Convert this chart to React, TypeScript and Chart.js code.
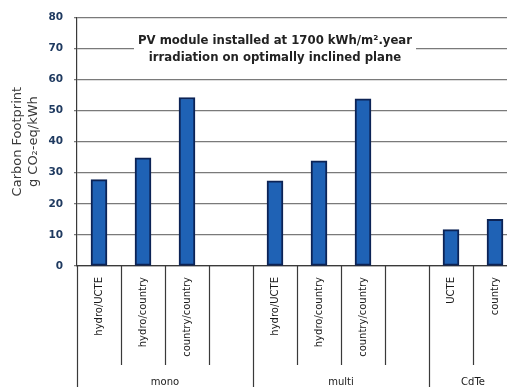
import React, { useEffect, useRef } from 'react';
import { Chart, registerables } from 'chart.js';

Chart.register(...registerables);

const categories = [
  'hydro/UCTE', 'hydro/country', 'country/country', '',
  'hydro/UCTE', 'hydro/country', 'country/country', '',
  'UCTE', 'country',
];
const footprint: (number | null)[] = [27.8, 34.8, 54.2, null, 27.4, 33.8, 53.8, null, 11.7, 15.0];
const groupNames = ['mono', 'multi', 'CdTe'];
const groupSizes = [4, 4, 2];
const yMin = 0;
const yMax = 80;
const yStep = 10;
const noteLines = ['PV module installed at 1700 kWh/m\u00B2.year', 'irradiation on optimally inclined plane'];
const yTitle = ['Carbon Footprint', 'g CO\u2082-eq/kWh'];

const overlayPlugin = {
  id: 'overlay',
  beforeDatasetsDraw(chart: any) {
    const { ctx, scales } = chart;
    const x = scales.x;
    const y = scales.y;
    const cx = x.getPixelForValue(4);
    const y70 = y.getPixelForValue(70);
    ctx.save();
    ctx.font = 'bold 11.7px "DejaVu Sans"';
    const w = Math.max(...noteLines.map((t) => ctx.measureText(t).width));
    ctx.fillStyle = '#ffffff';
    ctx.fillRect(cx - w / 2 - 4, y70 - 17, w + 8, 38);
    ctx.fillStyle = '#222222';
    ctx.textAlign = 'center';
    ctx.textBaseline = 'middle';
    ctx.fillText(noteLines[0], cx, y70 - 7);
    ctx.fillText(noteLines[1], cx, y70 + 10);
    ctx.restore();
  },
  afterDraw(chart: any) {
    const { ctx, scales, chartArea } = chart;
    const x = scales.x;
    const n = categories.length;
    const slot = x.getPixelForValue(1) - x.getPixelForValue(0);
    const bounds: number[] = [0];
    groupSizes.reduce((acc, s) => {
      bounds.push(acc + s);
      return acc + s;
    }, 0);
    ctx.save();
    ctx.strokeStyle = '#3a3a3a';
    ctx.lineWidth = 1.2;
    for (let i = 0; i <= n; i++) {
      const bx = Math.round(x.getPixelForValue(0) - slot / 2 + i * slot) + 0.5;
      const isGroup = bounds.includes(i);
      ctx.beginPath();
      ctx.moveTo(bx, chartArea.bottom);
      ctx.lineTo(bx, isGroup ? chart.height : chartArea.bottom + 99);
      ctx.stroke();
    }
    ctx.fillStyle = '#1a1a1a';
    ctx.font = '10px "DejaVu Sans"';
    ctx.textAlign = 'center';
    ctx.textBaseline = 'middle';
    let start = 0;
    groupNames.forEach((g, gi) => {
      const end = start + groupSizes[gi];
      const gx = x.getPixelForValue(0) - slot / 2 + ((start + end) / 2) * slot;
      ctx.fillText(g, gx, chart.height - 5);
      start = end;
    });
    ctx.restore();
  },
};

export default function App() {
  const ref = useRef<HTMLCanvasElement>(null);
  useEffect(() => {
    if (!ref.current) return;
    const chart = new Chart(ref.current, {
      type: 'bar',
      data: {
        labels: categories,
        datasets: [
          {
            data: footprint,
            backgroundColor: '#1f62b5',
            borderColor: '#0c2355',
            borderWidth: 2,
            borderSkipped: false,
            barThickness: 16,
          },
        ],
      },
      options: {
        responsive: false,
        animation: false,
        layout: { padding: { left: 0, top: 16, right: 13, bottom: 0 } },
        plugins: { legend: { display: false }, tooltip: { enabled: false } },
        scales: {
          x: {
            afterFit(scale: any) {
              scale.height = 121;
            },
            grid: { display: false, drawTicks: false },
            border: { display: true, color: '#3a3a3a', width: 1.2 },
            ticks: {
              autoSkip: false,
              minRotation: 90,
              maxRotation: 90,
              padding: 11,
              color: '#1a1a1a',
              font: { family: '"DejaVu Sans"', size: 10 },
            },
          },
          y: {
            min: yMin,
            max: yMax,
            afterFit(scale: any) {
              scale.width = 77;
            },
            grid: { color: '#7a7a7a', lineWidth: 1.2, tickLength: 3 },
            border: { display: true, color: '#3a3a3a', width: 1.2 },
            ticks: {
              stepSize: yStep,
              padding: 11,
              color: '#1f3a60',
              font: { family: '"DejaVu Sans"', size: 10.5, weight: 'bold' },
            },
            title: {
              display: true,
              text: yTitle,
              color: '#3a3a3a',
              padding: { top: 10, bottom: 0 },
              font: { family: '"DejaVu Sans"', size: 13, lineHeight: 1.2 },
            },
          },
        },
      },
      plugins: [overlayPlugin],
    });
    return () => chart.destroy();
  }, []);
  return (
    <div
      style={{
        position: 'fixed',
        left: 0,
        top: 0,
        width: 507,
        height: 387,
        overflow: 'hidden',
        background: '#ffffff',
      }}
    >
      <canvas ref={ref} width={530} height={387} style={{ display: 'block' }} />
    </div>
  );
}
